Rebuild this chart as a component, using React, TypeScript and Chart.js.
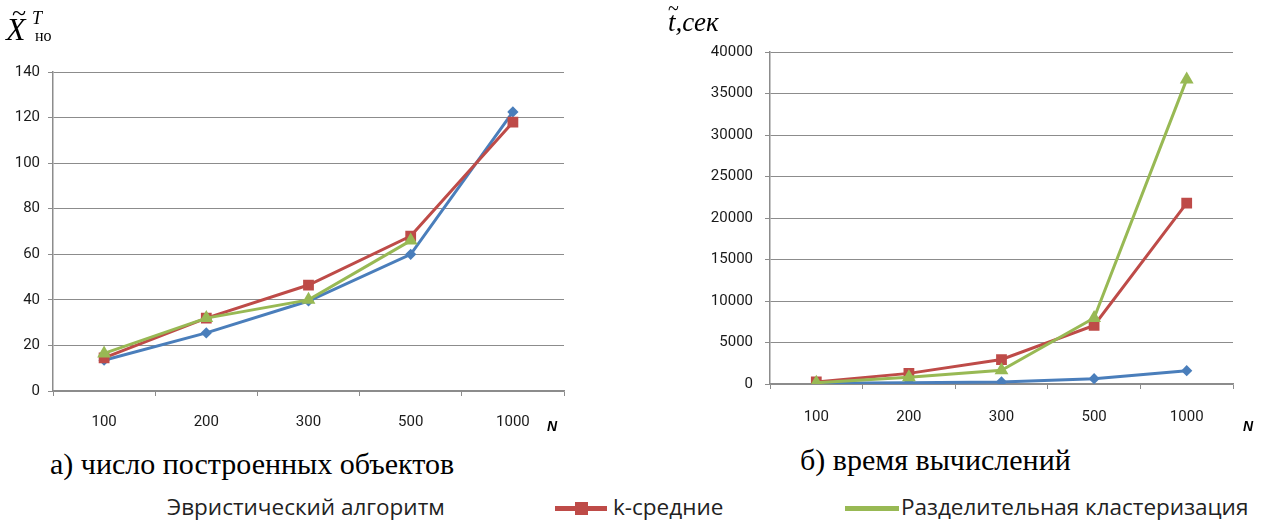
import React, { useEffect, useRef } from "react";
import { Chart, registerables } from "chart.js";

Chart.register(...registerables);

const categories = ["100", "200", "300", "500", "1000"];
const heurCount = [13.5, 25.5, 39.5, 60, 122.5];
const kmeansCount = [14.5, 32, 46.5, 68, 118];
const divCount = [16.5, 32, 40, 66, null];
const heurTime = [100, 150, 250, 640, 1600];
const kmeansTime = [250, 1280, 2950, 7050, 21800];
const divTime = [150, 800, 1650, 7950, 36700];

const seriesNames = ["Эвристический алгоритм", "k-средние", "Разделительная кластеризация"];

const BLUE = "#4a7ebb";
const RED = "#be4b48";
const GREEN = "#98b954";
const GRID = "#8c8c8c";
const TICK_FONT = "Roboto, 'Noto Sans', sans-serif";

function makeDatasets(a: (number | null)[], b: (number | null)[], c: (number | null)[]) {
  return [
    {
      label: seriesNames[0], data: a, borderColor: BLUE, backgroundColor: BLUE,
      borderWidth: 3, pointStyle: "rectRot", pointRadius: 3.5, order: 3,
    },
    {
      label: seriesNames[1], data: b, borderColor: RED, backgroundColor: RED,
      borderWidth: 3, pointStyle: "rect", pointRadius: 5.5, order: 2,
    },
    {
      label: seriesNames[2], data: c, borderColor: GREEN, backgroundColor: GREEN,
      borderWidth: 3, pointStyle: "triangle", pointRadius: 5, order: 1,
    },
  ];
}

function makeOptions(o: {
  max: number; step: number; yWidth: number; xHeight: number; padTop: number; padRight: number;
  yPad: number; xPad: number; fontSize: number;
}) {
  return {
    responsive: false,
    animation: false as const,
    layout: { padding: { top: o.padTop, right: o.padRight, left: 0, bottom: 0 } },
    plugins: { legend: { display: false }, tooltip: { enabled: false } },
    elements: { line: { tension: 0 } },
    scales: {
      x: {
        type: "category" as const,
        offset: true,
        grid: { offset: true, drawOnChartArea: false, drawTicks: true, tickLength: 5, color: GRID, lineWidth: 1 },
        border: { color: GRID, width: 1.5 },
        ticks: { color: "#1a1a1a", padding: o.xPad, font: { family: TICK_FONT, size: o.fontSize }, maxRotation: 0 },
        afterFit: (s: any) => { s.height = o.xHeight; },
      },
      y: {
        min: 0, max: o.max,
        grid: { color: GRID, lineWidth: 1, tickLength: 5 },
        border: { color: GRID, width: 1.5 },
        ticks: {
          stepSize: o.step, color: "#1a1a1a", padding: o.yPad,
          font: { family: TICK_FONT, size: o.fontSize },
          callback: (v: any) => String(v),
        },
        afterFit: (s: any) => { s.width = o.yWidth; },
      },
    },
  };
}

function LineChart(props: { datasets: any[]; options: any; width: number; height: number; style: React.CSSProperties }) {
  const ref = useRef<HTMLCanvasElement | null>(null);
  useEffect(() => {
    if (!ref.current) return;
    const chart = new Chart(ref.current, {
      type: "line",
      data: { labels: categories, datasets: props.datasets },
      options: props.options,
    });
    return () => chart.destroy();
  }, []);
  return <canvas ref={ref} width={props.width} height={props.height} style={{ position: "absolute", ...props.style }} />;
}

const abs = (s: React.CSSProperties): React.CSSProperties => ({ position: "absolute", whiteSpace: "nowrap", ...s });

export default function App() {
  const serif = "'Liberation Serif', 'Times New Roman', serif";
  const legendFont = "'Open Sans', 'Noto Sans', sans-serif";
  const nFont = "'Liberation Sans', Arial, sans-serif";
  return (
    <div style={{ position: "fixed", left: 0, top: 0, width: 1275, height: 522, background: "#fff", overflow: "hidden" }}>
      <LineChart
        datasets={makeDatasets(heurCount, kmeansCount, divCount)}
        options={makeOptions({ max: 140, step: 20, yWidth: 53, xHeight: 49, padTop: 72, padRight: 76, yPad: 8, xPad: 17, fontSize: 15 })}
        width={640} height={440} style={{ left: 0, top: 0 }}
      />
      <LineChart
        datasets={makeDatasets(heurTime, kmeansTime, divTime)}
        options={makeOptions({ max: 40000, step: 5000, yWidth: 130, xHeight: 56, padTop: 52, padRight: 42, yPad: 12, xPad: 19, fontSize: 15 })}
        width={635} height={440} style={{ left: 640, top: 0 }}
      />

      {/* left axis title */}
      <div style={abs({ left: 6, top: 13, fontFamily: serif, fontStyle: "italic", fontSize: 32, lineHeight: "32px" })}>X</div>
      <div style={abs({ left: 12, top: 0, fontFamily: serif, fontSize: 26, lineHeight: "26px" })}>~</div>
      <div style={abs({ left: 32, top: 9, fontFamily: serif, fontStyle: "italic", fontSize: 18, lineHeight: "18px" })}>T</div>
      <div style={abs({ left: 35, top: 28, width: 16, overflow: "hidden", fontFamily: serif, fontSize: 16, lineHeight: "16px" })}>нов</div>

      {/* right axis title */}
      <div style={abs({ left: 668, top: 8, fontFamily: serif, fontStyle: "italic", fontSize: 27, lineHeight: "28px" })}>
        <span style={{ position: "relative" }}>
          t
          <span style={{ position: "absolute", left: 0, top: -13, fontStyle: "normal", fontSize: 20 }}>~</span>
        </span>
        ,сек
      </div>

      {/* N labels */}
      <div style={abs({ left: 547, top: 418, fontFamily: nFont, fontWeight: "bold", fontStyle: "italic", fontSize: 14 })}>N</div>
      <div style={abs({ left: 1243, top: 418, fontFamily: nFont, fontWeight: "bold", fontStyle: "italic", fontSize: 14 })}>N</div>

      {/* captions */}
      <div style={abs({ left: 50, top: 446, fontFamily: serif, fontSize: 30, lineHeight: "36px" })}>а) число построенных объектов</div>
      <div style={abs({ left: 800, top: 442, fontFamily: serif, fontSize: 30, lineHeight: "36px" })}>б) время вычислений</div>

      {/* legend */}
      <div style={abs({ left: 167, top: 492, fontFamily: legendFont, fontSize: 22.5, lineHeight: "30px", color: "#222" })}>{seriesNames[0]}</div>
      <div style={abs({ left: 555, top: 506, width: 52, height: 5, background: RED })} />
      <div style={abs({ left: 575, top: 502, width: 13, height: 13, background: RED })} />
      <div style={abs({ left: 613, top: 492, fontFamily: legendFont, fontSize: 22.5, lineHeight: "30px", color: "#222" })}>{seriesNames[1]}</div>
      <div style={abs({ left: 845, top: 506, width: 54, height: 5, background: GREEN })} />
      <div style={abs({ left: 901, top: 492, fontFamily: legendFont, fontSize: 22.5, lineHeight: "30px", color: "#222" })}>{seriesNames[2]}</div>
    </div>
  );
}
